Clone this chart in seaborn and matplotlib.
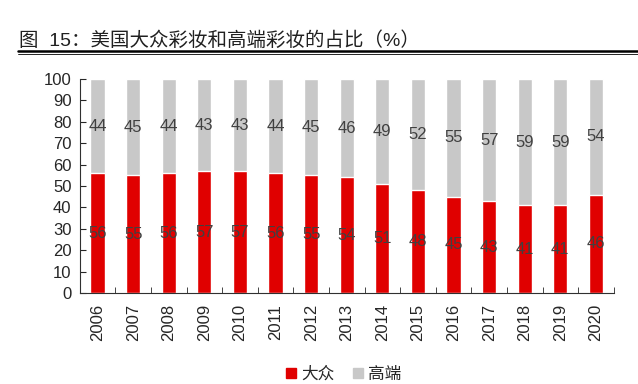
import numpy as np
import pandas as pd
import seaborn as sns
import matplotlib.pyplot as plt
from matplotlib.lines import Line2D

years = ['2006', '2007', '2008', '2009', '2010', '2011', '2012', '2013',
         '2014', '2015', '2016', '2017', '2018', '2019', '2020']
mass = [56, 55, 56, 57, 57, 56, 55, 54, 51, 48, 45, 43, 41, 41, 46]
premium = [44, 45, 44, 43, 43, 44, 45, 46, 49, 52, 55, 57, 59, 59, 54]
series_names = ['大众', '高端']
title = '图  15：美国大众彩妆和高端彩妆的占比（%）'

red = '#E00000'
grey = '#C8C8C8'

sns.set_style('ticks')
plt.rcParams['font.family'] = ['Liberation Sans', 'Noto Sans CJK SC', 'DejaVu Sans']

df = pd.DataFrame({'year': years, 'mass': mass, 'premium': premium})
df['total'] = df['mass'] + df['premium']

fig = plt.figure(figsize=(6.38, 3.84), dpi=100)
ax = fig.add_axes([0.125, 0.237, 0.837, 0.557])

# stacked: grey total first, red on top of it
sns.barplot(data=df, x='year', y='total', color=grey, width=0.4, saturation=1, ax=ax)
sns.barplot(data=df, x='year', y='mass', color=red, width=0.4, saturation=1, ax=ax)

for i, (m, p) in enumerate(zip(mass, premium)):
    ax.text(i, m / 2, str(m), ha='center', va='center', fontsize=12, color='#404040')
    ax.text(i, m + p / 2, str(p), ha='center', va='center', fontsize=12, color='#404040')

ax.set_ylim(0, 100)
ax.set_xlim(-0.5, len(years) - 0.5)
ax.set_yticks(range(0, 101, 10))
ax.tick_params(axis='y', direction='in', length=4, labelsize=12, pad=6)
ax.tick_params(axis='x', which='major', length=0, labelsize=12, rotation=90, pad=8)
ax.set_xticks(np.arange(-0.5, len(years), 1), minor=True)
ax.tick_params(axis='x', which='minor', direction='in', length=4)
ax.set_xlabel('')
ax.set_ylabel('')
sns.despine(ax=ax, top=True, right=True)
for s in ['left', 'bottom']:
    ax.spines[s].set_color('#303030')

handles = [Line2D([], [], marker='s', linestyle='', color=red, markersize=7),
           Line2D([], [], marker='s', linestyle='', color=grey, markersize=7)]
fig.legend(handles, series_names, loc='center', bbox_to_anchor=(0.535, 0.025), ncol=2,
           frameon=False, fontsize=12, handletextpad=0.0, columnspacing=0.8,
           handlelength=1.2)

fig.text(0.03, 0.895, title, fontsize=14, color='#202020', va='center')
fig.add_artist(Line2D([0.028, 1.0], [0.868, 0.868], color='black', lw=1.8, transform=fig.transFigure))
fig.add_artist(Line2D([0.028, 1.0], [0.86, 0.86], color='black', lw=0.6, transform=fig.transFigure))

fig.savefig('out.png', dpi=100)
